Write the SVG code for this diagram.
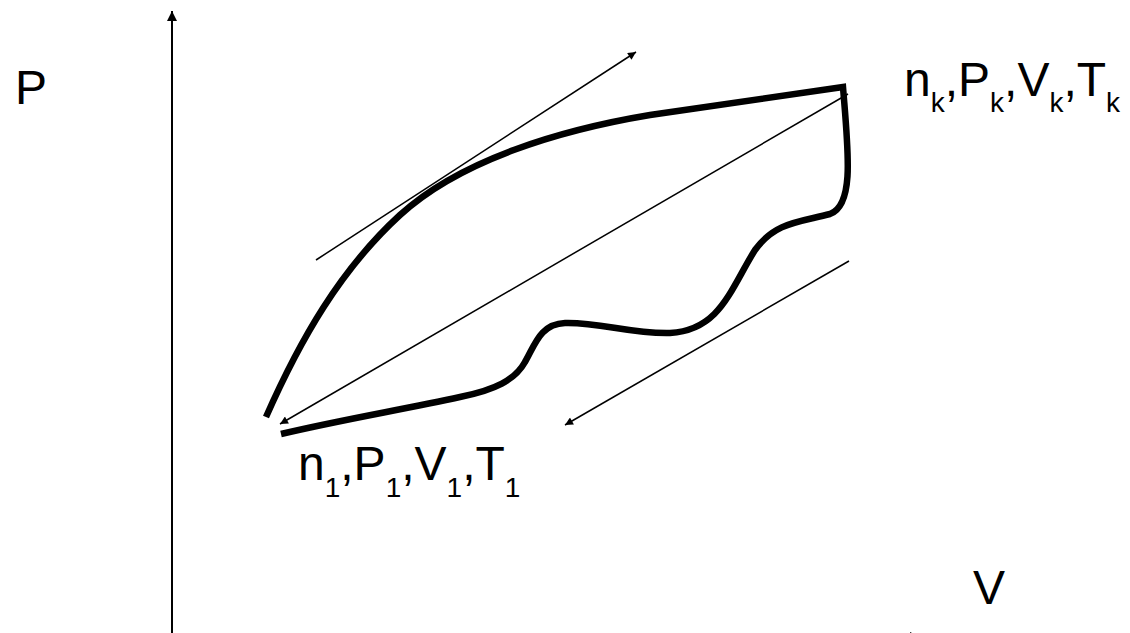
<svg xmlns="http://www.w3.org/2000/svg" width="1130" height="633" viewBox="0 0 1130 633">
<style>
.lbl{font-family:"Liberation Sans",Arial,sans-serif;font-size:48px;fill:#000}
.sub{font-size:28px}
.thin{fill:none;stroke:#000;stroke-width:1.5}
.axis{fill:none;stroke:#000;stroke-width:2}
.cycle{fill:none;stroke:#000;stroke-width:6.5;stroke-linejoin:miter;stroke-linecap:butt}
</style>
<defs>
<marker id="ah" viewBox="0 0 10 10" refX="10" refY="5" markerWidth="10" markerHeight="8" markerUnits="userSpaceOnUse" orient="auto">
<path d="M0,0 L10,5 L0,10 z" fill="#000"/>
</marker>
<marker id="axh" viewBox="0 0 10 10" refX="10" refY="5" markerWidth="14" markerHeight="10" markerUnits="userSpaceOnUse" orient="auto">
<path d="M0,0 L10,5 L0,10 z" fill="#000"/>
</marker>
</defs>
<g id="axes">
<line class="axis" x1="172" y1="633" x2="172" y2="11" marker-end="url(#axh)"/>
<line class="axis" x1="172" y1="637" x2="920" y2="637" marker-end="url(#axh)"/>
</g>
<g id="cycle">
<path class="cycle" d="M266,417 C300,340 340,270 400,215 C460,160 560,130 650,115 L843,87 C848,150 855,205 830,214 C800,222 775,222 755,250 C730,290 720,330 670,333 C630,334 600,322 565,323 C540,324 535,345 525,362 C515,380 495,390 460,397 C400,410 340,420 281,434"/>
</g>
<g id="connectors">
<line class="thin" x1="848" y1="94" x2="280" y2="424" marker-end="url(#ah)"/>
<line class="thin" x1="316" y1="260" x2="636" y2="52" marker-end="url(#ah)"/>
<line class="thin" x1="849" y1="261" x2="565" y2="425" marker-end="url(#ah)"/>
</g>
<g id="label-P"><text class="lbl" x="15" y="104">P</text></g>
<g id="label-V"><text class="lbl" x="973" y="604">V</text></g>
<g id="label-k"><text class="lbl" x="904" y="96">n<tspan class="sub" dy="16">k</tspan><tspan dy="-16">,P</tspan><tspan class="sub" dy="16">k</tspan><tspan dy="-16">,V</tspan><tspan class="sub" dy="16">k</tspan><tspan dy="-16">,T</tspan><tspan class="sub" dy="16">k</tspan></text></g>
<g id="label-1"><text class="lbl" x="298" y="480">n<tspan class="sub" dy="17">1</tspan><tspan dy="-17">,P</tspan><tspan class="sub" dy="17">1</tspan><tspan dy="-17">,V</tspan><tspan class="sub" dy="17">1</tspan><tspan dy="-17">,T</tspan><tspan class="sub" dy="17">1</tspan></text></g>
</svg>
